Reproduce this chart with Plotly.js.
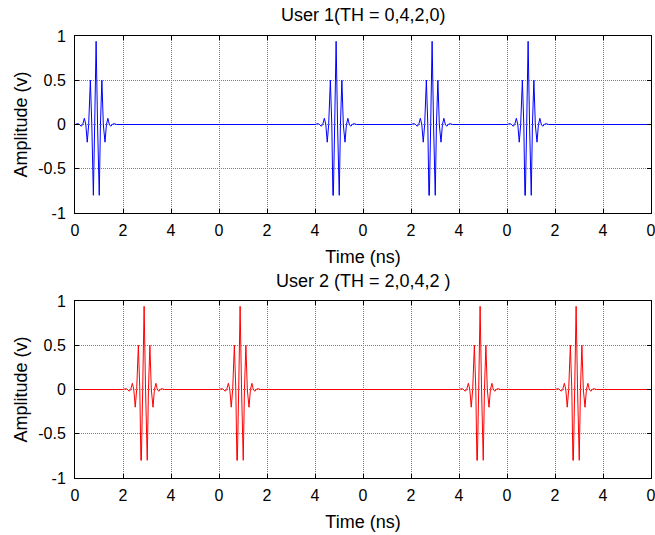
<!DOCTYPE html>
<html>
<head>
<meta charset="utf-8">
<script src="https://cdn.plot.ly/plotly-3.0.1.min.js"></script>
<style>html,body{margin:0;padding:0;background:#fff;}#chart{width:655px;height:535px;}</style>
</head>
<body>
<div id="chart"></div>
<script>
// ---- data ----
const frameLength = 6;              // ns per frame
const totalTime = 24;               // ns
const th1 = [0, 4, 2, 0];           // User 1 time-hopping code (ns offset in frame)
const th2 = [2, 0, 4, 2];           // User 2 time-hopping code
// one UWB pulse (time offset from pulse start in ns, amplitude in V)
const pulseT = [0, 0.12, 0.19, 0.26, 0.32, 0.39, 0.45, 0.51, 0.57, 0.64, 0.70, 0.745, 0.765, 0.82, 0.88, 0.94, 0.99, 1.01, 1.06, 1.12, 1.18, 1.25, 1.31, 1.37, 1.43, 1.49, 1.55, 1.62, 1.72];
const pulseA = [0, 0.01, 0, -0.02, 0, 0.07, 0, -0.2, 0, 0.5, 0, -0.8, -0.8, 0, 0.94, 0, -0.8, -0.8, 0, 0.5, 0, -0.2, 0, 0.07, 0, -0.02, 0, 0.01, 0];
const xTickVals = [0, 2, 4, 6, 8, 10, 12, 14, 16, 18, 20, 22, 24];
const xTickText = ["0", "2", "4", "0", "2", "4", "0", "2", "4", "0", "2", "4", "0"];
const yTickVals = [-1, -0.5, 0, 0.5, 1];
const yTickText = ["-1", "-0.5", "0", "0.5", "1"];
const title1 = "User 1(TH = 0,4,2,0)";
const title2 = "User 2 (TH = 2,0,4,2 )";

function buildSignal(th) {
  const x = [0], y = [0];
  th.forEach((t, i) => {
    const start = i * frameLength + t;
    pulseT.forEach((dt, j) => { x.push(start + dt); y.push(pulseA[j]); });
  });
  x.push(totalTime); y.push(0);
  return {x, y};
}
const s1 = buildSignal(th1);
const s2 = buildSignal(th2);

const FONT = '"Liberation Sans", Arial, sans-serif';

const traces = [
  {x: s1.x, y: s1.y, xaxis: 'x', yaxis: 'y', type: 'scatter', mode: 'lines',
   line: {color: '#0000ff', width: 1}, hoverinfo: 'skip'},
  {x: s2.x, y: s2.y, xaxis: 'x2', yaxis: 'y2', type: 'scatter', mode: 'lines',
   line: {color: '#ff0000', width: 1}, hoverinfo: 'skip'}
];

function xax(anchor) {
  return {
    anchor: anchor, domain: [0, 1], range: [0, totalTime],
    tickmode: 'array', tickvals: xTickVals, ticktext: xTickText,
    ticks: 'inside', ticklen: 4, tickcolor: '#000', tickwidth: 1,
    showline: true, linecolor: '#000', linewidth: 1, mirror: 'ticks',
    showgrid: true, gridcolor: '#7a7a7a', griddash: '1px,1px', gridwidth: 1,
    zeroline: false, tickfont: {family: FONT, size: 16, color: '#000'},
    ticklabeloverflow: 'allow', ticklabelstandoff: 3,
    title: {text: 'Time (ns)', font: {family: FONT, size: 18, color: '#000'}, standoff: 12},
    automargin: false
  };
}
function yax(anchor, domain) {
  return {
    anchor: anchor, domain: domain, range: [-1, 1],
    tickmode: 'array', tickvals: yTickVals, ticktext: yTickText,
    ticks: 'inside', ticklen: 4, tickcolor: '#000', tickwidth: 1,
    showline: true, linecolor: '#000', linewidth: 1, mirror: 'ticks',
    showgrid: true, gridcolor: '#7a7a7a', griddash: '1px,1px', gridwidth: 1,
    zeroline: false, tickfont: {family: FONT, size: 16, color: '#000'},
    ticklabeloverflow: 'allow', ticklabelstandoff: 5,
    title: {text: 'Amplitude (v)', font: {family: FONT, size: 18, color: '#000'}, standoff: 5},
    automargin: false
  };
}

const layout = {
  width: 655, height: 535,
  margin: {l: 75, r: 4, t: 0, b: 0, pad: 0},
  paper_bgcolor: '#fff', plot_bgcolor: '#fff',
  showlegend: false,
  font: {family: FONT, color: '#000'},
  xaxis: xax('y'),
  yaxis: yax('x', [1 - 213 / 535, 1 - 36 / 535]),
  xaxis2: xax('y2'),
  yaxis2: yax('x2', [1 - 478 / 535, 1 - 301 / 535]),
  annotations: [
    {text: title1, xref: 'paper', yref: 'paper', x: 0.5, y: 1 - 15 / 535,
     xanchor: 'center', yanchor: 'middle', showarrow: false,
     font: {family: FONT, size: 18, color: '#000'}},
    {text: title2, xref: 'paper', yref: 'paper', x: 0.5, y: 1 - 281 / 535,
     xanchor: 'center', yanchor: 'middle', showarrow: false,
     font: {family: FONT, size: 18, color: '#000'}}
  ]
};

Plotly.newPlot('chart', traces, layout, {staticPlot: true, displayModeBar: false});
</script>
</body>
</html>
